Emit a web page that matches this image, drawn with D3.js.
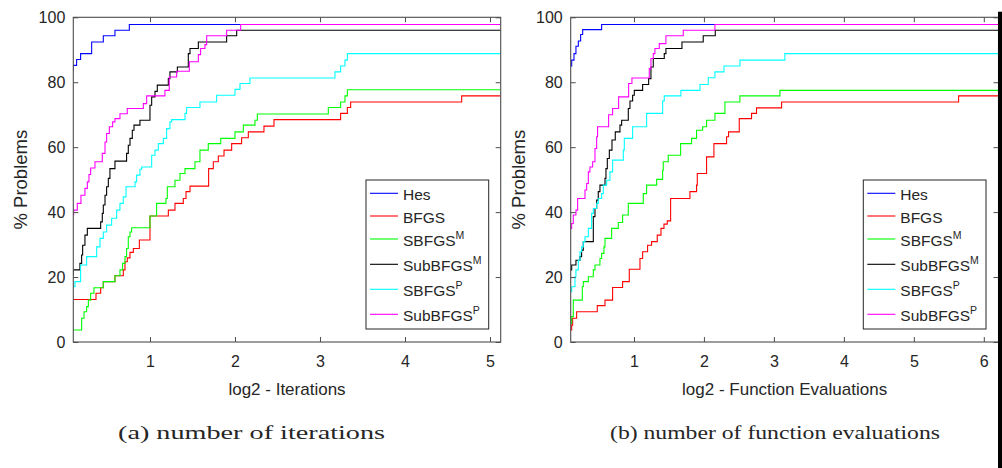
<!DOCTYPE html>
<html>
<head>
<meta charset="utf-8">
<script src="https://cdn.jsdelivr.net/npm/d3@7"></script>
<style>
  body { margin: 0; background: #fff; }
  svg { display: block; }
  text { font-family: "Liberation Sans", Arial, sans-serif; fill: #262626; }
</style>
</head>
<body>
<svg width="1002" height="468"></svg>
<script>
// legend / series
var seriesNames = ["Hes", "BFGS", "SBFGS", "SubBFGS", "SBFGS", "SubBFGS"];
var seriesSup   = ["", "", "M", "M", "P", "P"];
var seriesColors = ["#0000ff", "#ff0000", "#00ff00", "#000000", "#00ffff", "#ff00ff"];

var yTicks = [0, 20, 40, 60, 80, 100];

// (a) log2 - Iterations : [x, % problems] step points
var iterHes = [[0.098,83.7],[0.099,85.2],[0.137,87.0],[0.184,88.8],[0.314,92.4],[0.451,94.3],[0.588,96.0],[0.757,97.8]];
var iterBFGS = [[0.098,13.1],[0.365,15.0],[0.42,16.7],[0.451,18.6],[0.588,20.4],[0.686,22.2],[0.706,24.7],[0.733,25.9],[0.765,27.6],[0.804,28.8],[0.875,31.4],[1.0,38.8],[1.216,40.6],[1.294,42.7],[1.392,44.2],[1.424,46.3],[1.471,48.0],[1.69,53.4],[1.745,55.5],[1.804,57.3],[1.871,59.1],[1.961,61.1],[2.078,62.9],[2.157,64.7],[2.341,66.5],[2.459,68.5],[3.243,70.4],[3.322,72.2],[3.361,73.9],[4.667,75.8]];
var iterSBFGSM = [[0.098,3.7],[0.196,7.3],[0.224,9.3],[0.255,10.9],[0.275,12.9],[0.302,15.0],[0.341,16.7],[0.451,18.6],[0.588,20.4],[0.647,22.2],[0.678,24.2],[0.706,26.3],[0.725,28.8],[0.745,32.4],[0.765,33.9],[0.784,35.2],[1.0,38.8],[1.078,42.7],[1.188,44.2],[1.204,47.8],[1.294,49.8],[1.353,51.9],[1.412,53.4],[1.529,55.5],[1.588,59.1],[1.686,61.1],[1.833,62.7],[2.0,64.7],[2.098,66.8],[2.235,68.3],[2.263,70.2],[3.098,72.2],[3.243,73.9],[3.294,75.8],[3.322,77.7]];
var iterSubBFGSM = [[0.098,20.6],[0.099,22.2],[0.176,24.2],[0.196,26.8],[0.208,29.8],[0.235,32.9],[0.263,35.0],[0.42,37.0],[0.439,39.6],[0.451,42.2],[0.471,45.2],[0.49,47.8],[0.51,50.4],[0.529,53.4],[0.588,55.7],[0.725,58.1],[0.745,60.6],[0.765,62.7],[0.792,65.2],[0.812,66.8],[0.882,68.3],[1.0,72.9],[1.02,75.5],[1.059,77.2],[1.086,79.1],[1.216,81.1],[1.235,83.2],[1.322,84.7],[1.451,88.8],[1.471,90.4],[1.569,92.4],[1.902,94.3],[2.02,96.0]];
var iterSBFGSP = [[0.098,17.0],[0.118,18.6],[0.184,23.7],[0.255,26.3],[0.373,29.3],[0.412,31.9],[0.451,33.9],[0.49,36.0],[0.549,38.1],[0.608,40.6],[0.647,42.7],[0.686,44.7],[0.718,47.8],[0.824,49.3],[0.843,51.4],[0.882,53.2],[0.902,53.9],[1.02,57.5],[1.059,59.1],[1.098,61.1],[1.157,62.7],[1.196,65.7],[1.235,67.8],[1.255,68.5],[1.412,70.4],[1.431,72.2],[1.588,73.9],[1.784,76.0],[2.0,77.8],[2.059,79.6],[2.176,81.3],[3.176,83.2],[3.243,85.0],[3.294,86.8],[3.322,88.8]];
var iterSubBFGSP = [[0.098,39.1],[0.102,40.6],[0.145,42.7],[0.188,45.2],[0.235,47.3],[0.263,49.3],[0.282,51.6],[0.302,53.6],[0.353,55.5],[0.439,58.1],[0.471,61.6],[0.49,64.2],[0.522,66.3],[0.561,67.8],[0.588,68.8],[0.647,70.3],[0.733,71.9],[0.922,73.4],[0.961,75.8],[1.176,77.5],[1.227,81.6],[1.314,83.4],[1.463,86.3],[1.569,88.5],[1.596,90.4],[1.647,91.6],[1.667,94.3],[1.902,96.0],[2.067,97.8]];

// (b) log2 - Function Evaluations
var evalHes = [[0.096,85.0],[0.11,86.8],[0.143,88.8],[0.171,91.1],[0.205,92.7],[0.238,94.7],[0.267,96.2],[0.538,97.8]];
var evalBFGS = [[0.096,3.7],[0.11,5.2],[0.124,7.3],[0.181,9.3],[0.476,11.2],[0.586,12.9],[0.695,16.8],[0.838,18.6],[0.933,22.4],[1.086,25.7],[1.124,27.8],[1.195,29.8],[1.252,30.9],[1.333,32.9],[1.386,35.0],[1.429,36.3],[1.476,37.3],[1.524,44.2],[1.8,46.3],[1.895,48.3],[1.905,51.9],[2.038,57.0],[2.143,61.1],[2.324,63.2],[2.352,64.7],[2.505,68.8],[2.681,70.4],[2.752,72.1],[3.11,73.9],[5.64,75.8]];
var evalSBFGSM = [[0.096,5.7],[0.11,7.8],[0.133,12.9],[0.262,17.0],[0.276,18.6],[0.348,20.1],[0.419,22.2],[0.443,23.7],[0.514,25.7],[0.538,27.3],[0.571,29.3],[0.586,31.9],[0.681,35.0],[0.776,36.8],[0.838,39.1],[0.919,42.7],[1.133,45.7],[1.181,48.3],[1.324,50.1],[1.41,52.9],[1.419,55.5],[1.49,57.5],[1.667,61.1],[1.824,62.7],[1.895,65.2],[1.981,66.3],[2.038,68.3],[2.157,70.4],[2.3,73.9],[2.514,75.8],[3.086,77.5]];
var evalSubBFGSM = [[0.096,22.2],[0.11,23.7],[0.171,25.2],[0.229,26.3],[0.252,28.3],[0.276,30.9],[0.419,38.6],[0.443,41.1],[0.467,43.7],[0.49,46.3],[0.514,48.3],[0.586,50.4],[0.6,53.4],[0.619,56.5],[0.648,59.1],[0.686,62.2],[0.733,64.7],[0.8,66.8],[0.824,68.3],[0.919,71.9],[0.943,74.2],[0.981,76.0],[1.005,77.5],[1.124,79.3],[1.21,81.1],[1.243,84.7],[1.276,87.3],[1.433,88.8],[1.457,90.4],[1.686,92.4],[1.99,94.3],[2.162,96.0]];
var evalSBFGSP = [[0.096,15.5],[0.11,17.0],[0.157,20.1],[0.171,22.2],[0.205,25.2],[0.229,27.8],[0.252,29.3],[0.276,30.9],[0.3,32.4],[0.348,35.0],[0.395,39.6],[0.419,41.1],[0.467,42.7],[0.49,44.2],[0.538,45.7],[0.562,48.3],[0.61,49.8],[0.657,52.4],[0.695,56.0],[0.848,59.1],[0.862,62.7],[0.981,66.3],[1.181,70.4],[1.41,74.2],[1.433,75.8],[1.671,77.5],[1.943,79.3],[2.062,81.4],[2.157,83.2],[2.286,85.0],[2.514,86.8],[3.157,88.8]];
var evalSubBFGSP = [[0.096,35.0],[0.11,36.5],[0.133,39.1],[0.171,40.6],[0.195,44.2],[0.3,46.8],[0.324,48.8],[0.348,52.4],[0.371,53.9],[0.41,55.5],[0.443,59.6],[0.467,63.2],[0.48,66.3],[0.638,70.0],[0.695,71.9],[0.781,75.5],[0.924,79.6],[0.971,81.3],[1.219,84.2],[1.243,87.3],[1.276,88.8],[1.3,90.4],[1.362,91.9],[1.457,94.3],[1.705,96.0],[2.157,97.8]];

var panels = [
  { id: "a", x0: 73.3, x1: 500.7, xDomain: [0.098, 5.126], xTicks: [1,2,3,4,5],
    xLabel: "log2 - Iterations", yLabelX: 21, legendX: 366,
    caption: "(a) number of iterations", capX: 118, capW: 267,
    series: [iterHes, iterBFGS, iterSBFGSM, iterSubBFGSM, iterSBFGSP, iterSubBFGSP] },
  { id: "b", x0: 570.7, x1: 998.5, xDomain: [0.096, 6.21], xTicks: [1,2,3,4,5,6],
    xLabel: "log2 - Function Evaluations", yLabelX: 519, legendX: 863.3,
    caption: "(b) number of function evaluations", capX: 610, capW: 330,
    series: [evalHes, evalBFGS, evalSBFGSM, evalSubBFGSM, evalSBFGSP, evalSubBFGSP] }
];

var svg = d3.select("svg");
var yTop = 17.3, yBot = 342;
var legendRows = [193.3, 216, 239, 264.3, 289.3, 314.3];

panels.forEach(function(p) {
  var x = d3.scaleLinear().domain(p.xDomain).range([p.x0, p.x1]);
  var y = d3.scaleLinear().domain([0, 100]).range([yBot, yTop]);
  var g = svg.append("g");

  g.append("clipPath").attr("id", "clip" + p.id)
    .append("rect").attr("x", p.x0).attr("y", yTop - 2)
    .attr("width", p.x1 - p.x0).attr("height", yBot - yTop + 4);

  var line = d3.line()
    .x(function(d) { return x(d[0]); })
    .y(function(d) { return y(d[1]); })
    .curve(d3.curveStepAfter);

  g.append("g").attr("clip-path", "url(#clip" + p.id + ")")
    .selectAll("path")
    .data(p.series)
    .enter().append("path")
      .attr("fill", "none")
      .attr("stroke", function(d, i) { return seriesColors[i]; })
      .attr("stroke-width", 1.1)
      .attr("d", function(d) {
        var last = d[d.length - 1];
        return line(d.concat([[p.xDomain[1], last[1]]]));
      });

  // axes, ticks inside like matlab
  var bottom = g.append("g").attr("transform", "translate(0," + yBot + ")")
    .call(d3.axisBottom(x).tickValues(p.xTicks).tickSize(-5).tickPadding(14).tickFormat(d3.format("d")));
  var top = g.append("g").attr("transform", "translate(0," + yTop + ")")
    .call(d3.axisTop(x).tickValues(p.xTicks).tickSize(-5).tickFormat(""));
  var left = g.append("g").attr("transform", "translate(" + p.x0 + ",0)")
    .call(d3.axisLeft(y).tickValues(yTicks).tickSize(-5).tickPadding(8));
  var right = g.append("g").attr("transform", "translate(" + p.x1 + ",0)")
    .call(d3.axisRight(y).tickValues(yTicks).tickSize(-5).tickFormat(""));
  [bottom, top, left, right].forEach(function(a) {
    a.select(".domain").remove();
    a.selectAll("line").attr("stroke", "#4d4d4d");
    a.selectAll("text").attr("font-size", 16).attr("fill", "#262626")
      .style("font-family", '"Liberation Sans", Arial, sans-serif');
  });

  g.append("rect")
    .attr("x", p.x0).attr("y", yTop)
    .attr("width", p.x1 - p.x0).attr("height", yBot - yTop)
    .attr("fill", "none").attr("stroke", "#4d4d4d").attr("stroke-width", 1.1);

  g.append("text")
    .attr("x", (p.x0 + p.x1) / 2).attr("y", 394.5)
    .attr("text-anchor", "middle").attr("font-size", 17)
    .text(p.xLabel);

  g.append("text")
    .attr("transform", "translate(" + p.yLabelX + "," + ((yTop + yBot) / 2) + ") rotate(-90)")
    .attr("text-anchor", "middle").attr("dy", "0.35em").attr("font-size", 18.5)
    .text("% Problems");

  // legend
  var lg = g.append("g");
  lg.append("rect")
    .attr("x", p.legendX).attr("y", 180).attr("width", 122.7).attr("height", 149)
    .attr("fill", "#fff").attr("stroke", "#262626").attr("stroke-width", 1);
  seriesNames.forEach(function(name, i) {
    var ly = legendRows[i];
    lg.append("line")
      .attr("x1", p.legendX + 4).attr("x2", p.legendX + 32)
      .attr("y1", ly).attr("y2", ly)
      .attr("stroke", seriesColors[i]).attr("stroke-width", 1.1);
    var t = lg.append("text")
      .attr("x", p.legendX + 37).attr("y", ly + 6.5)
      .attr("font-size", 15.5).text(name);
    if (seriesSup[i]) {
      t.append("tspan").attr("dy", -7).attr("font-size", 10.5).text(seriesSup[i]);
    }
  });

  g.append("text")
    .attr("x", p.capX).attr("y", 439)
    .attr("font-size", 19.5)
    .attr("textLength", p.capW).attr("lengthAdjust", "spacingAndGlyphs")
    .style("font-family", '"Liberation Serif", "DejaVu Serif", serif')
    .text(p.caption);
});

// dark strip at the right edge of the original picture
svg.append("rect").attr("x", 998).attr("y", 11.7).attr("width", 4).attr("height", 460).attr("fill", "#000");
</script>
</body>
</html>
